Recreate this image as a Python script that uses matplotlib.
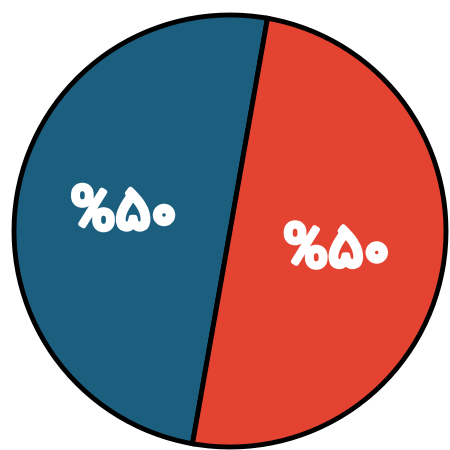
import matplotlib
matplotlib.use("Agg")
import matplotlib.pyplot as plt
import matplotlib.patheffects as pe

categories = ["A", "B"]
values = [50, 50]
labels = ["%۵۰", "%۵۰"]
colors = ["#1b5e7e", "#e54332"]

fig = plt.figure(figsize=(4.5, 4.5), dpi=100)
ax = fig.add_axes([0, 0, 1, 1])
wedges, texts = ax.pie(values, labels=labels, colors=colors, startangle=80,
                       counterclock=True, labeldistance=0.5, radius=1.0,
                       wedgeprops=dict(edgecolor="black", linewidth=3.5),
                       textprops=dict(color="white", fontsize=44, fontweight="bold",
                                      family=["Vazirmatn", "DejaVu Sans"]))
for t in texts:
    t.set_ha("center")
    t.set_va("center")
    t.set_path_effects([pe.withStroke(linewidth=3.5, foreground="white")])
s = 216.0
ax.set_xlim(-230 / s, 220 / s)
ax.set_ylim(-219 / s, 231 / s)
ax.set_aspect("auto")
ax.axis("off")
fig.savefig("out.png", dpi=100)
